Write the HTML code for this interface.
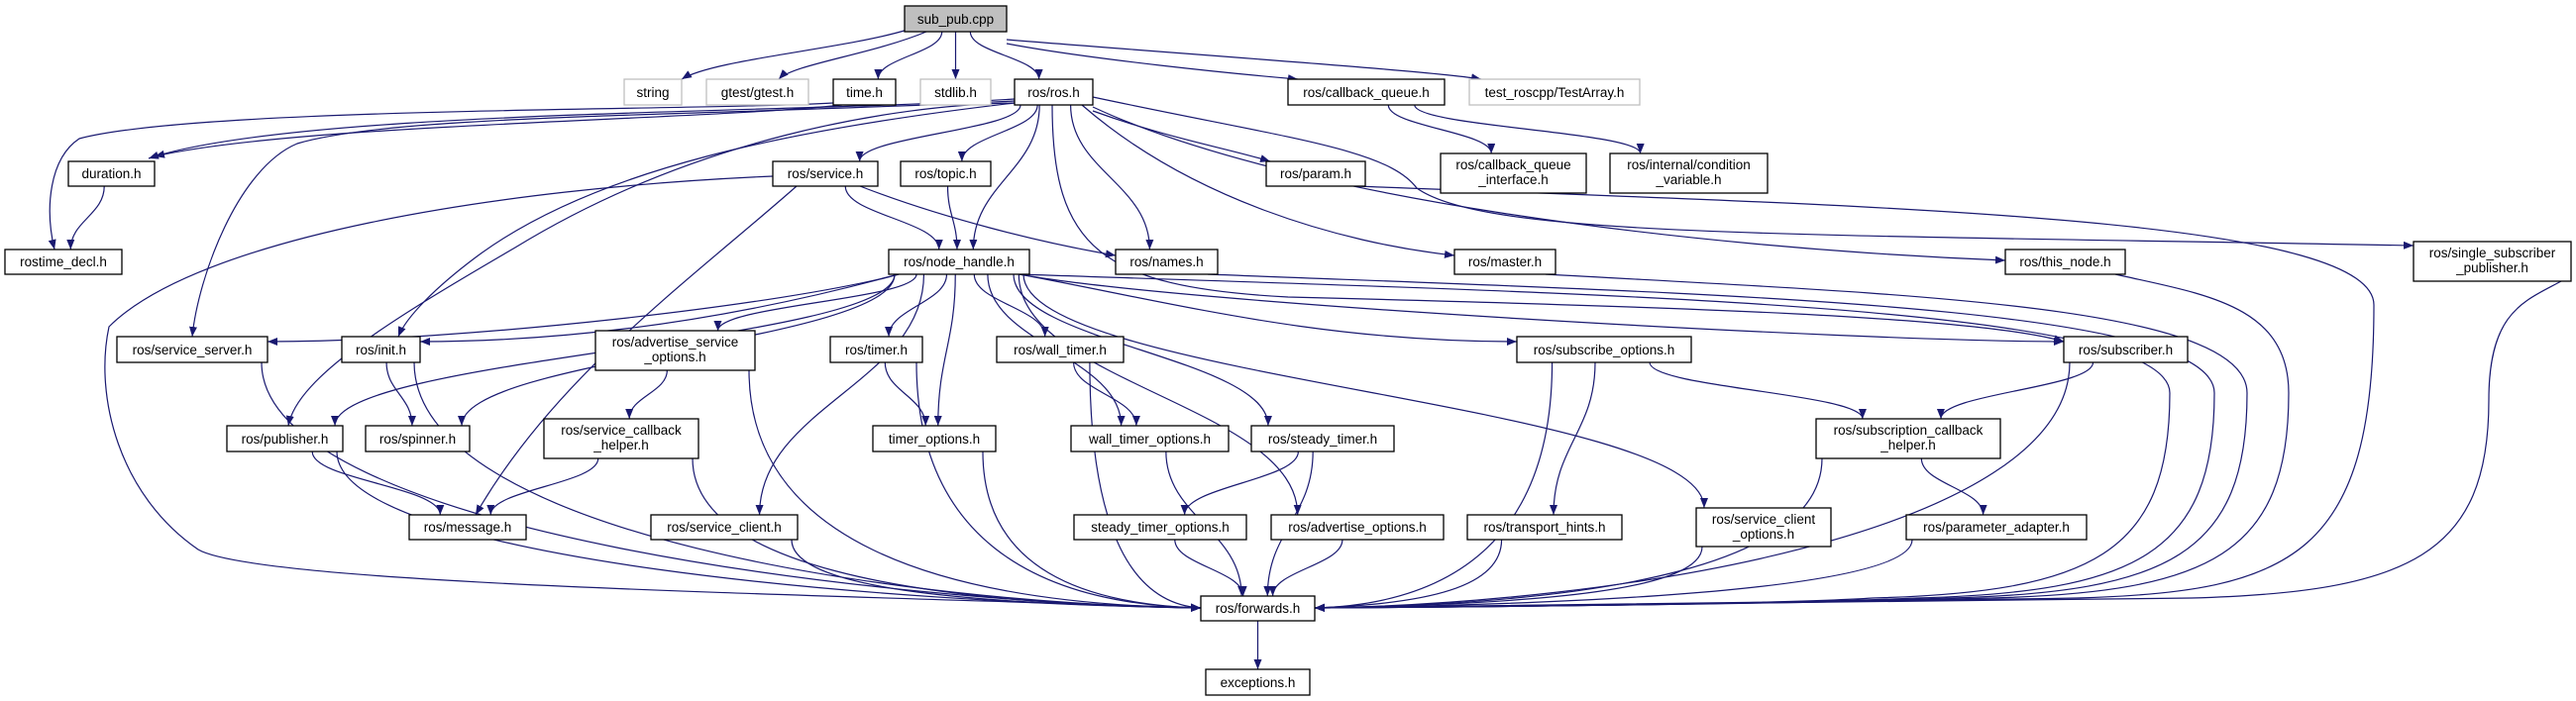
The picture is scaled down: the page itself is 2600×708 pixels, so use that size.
<!DOCTYPE html>
<html><head><meta charset="utf-8"><style>
html,body{margin:0;padding:0;background:#fff;}
svg{display:block;}
text{font-family:"Liberation Sans","DejaVu Sans",sans-serif;font-size:13.5px;fill:#000;}
.n{fill:#fff;stroke:#000;stroke-width:1.3;}
.g{fill:#fff;stroke:#bfbfbf;stroke-width:1.3;}
.e{fill:none;stroke:#191970;stroke-width:1.2;}
</style></head><body>
<svg id="s" width="2600" height="708" viewBox="0 0 2600 708" xmlns="http://www.w3.org/2000/svg">
<defs><marker id="a" markerWidth="10" markerHeight="8" refX="10" refY="4" orient="auto" markerUnits="userSpaceOnUse"><path d="M0,0 L10,4 L0,8 z" fill="#191970"/></marker></defs>
<g id="edges"></g>
<g id="nodes">
<rect x="913" y="6" width="103" height="26" fill="#bfbfbf" stroke="#000" stroke-width="1.3"/><text x="964.5" y="24" text-anchor="middle">sub_pub.cpp</text>
<rect class="g" x="630" y="80" width="58" height="26"/><text x="659" y="98" text-anchor="middle">string</text>
<rect class="g" x="713" y="80" width="103" height="26"/><text x="764.5" y="98" text-anchor="middle">gtest/gtest.h</text>
<rect class="n" x="841" y="80" width="63" height="26"/><text x="872.5" y="98" text-anchor="middle">time.h</text>
<rect class="g" x="929" y="80" width="71" height="26"/><text x="964.5" y="98" text-anchor="middle">stdlib.h</text>
<rect class="n" x="1024" y="80" width="79" height="26"/><text x="1063.5" y="98" text-anchor="middle">ros/ros.h</text>
<rect class="n" x="1300" y="80" width="158" height="26"/><text x="1379" y="98" text-anchor="middle">ros/callback_queue.h</text>
<rect class="g" x="1483" y="80" width="172" height="26"/><text x="1569" y="98" text-anchor="middle">test_roscpp/TestArray.h</text>
<rect class="n" x="69" y="163" width="87" height="25"/><text x="112.5" y="180" text-anchor="middle">duration.h</text>
<rect class="n" x="780" y="163" width="106" height="25"/><text x="833" y="180" text-anchor="middle">ros/service.h</text>
<rect class="n" x="909" y="163" width="91" height="25"/><text x="954.5" y="180" text-anchor="middle">ros/topic.h</text>
<rect class="n" x="1278" y="163" width="100" height="25"/><text x="1328" y="180" text-anchor="middle">ros/param.h</text>
<rect class="n" x="1454" y="155" width="147" height="40"/><text x="1527.5" y="171" text-anchor="middle">ros/callback_queue</text><text x="1527.5" y="186" text-anchor="middle">_interface.h</text>
<rect class="n" x="1625" y="155" width="159" height="40"/><text x="1704.5" y="171" text-anchor="middle">ros/internal/condition</text><text x="1704.5" y="186" text-anchor="middle">_variable.h</text>
<rect class="n" x="5" y="252" width="118" height="25"/><text x="64" y="269" text-anchor="middle">rostime_decl.h</text>
<rect class="n" x="897" y="252" width="142" height="25"/><text x="968" y="269" text-anchor="middle">ros/node_handle.h</text>
<rect class="n" x="1126" y="252" width="103" height="25"/><text x="1177.5" y="269" text-anchor="middle">ros/names.h</text>
<rect class="n" x="1468" y="252" width="102" height="25"/><text x="1519" y="269" text-anchor="middle">ros/master.h</text>
<rect class="n" x="2024" y="252" width="121" height="25"/><text x="2084.5" y="269" text-anchor="middle">ros/this_node.h</text>
<rect class="n" x="2436" y="244" width="159" height="40"/><text x="2515.5" y="260" text-anchor="middle">ros/single_subscriber</text><text x="2515.5" y="275" text-anchor="middle">_publisher.h</text>
<rect class="n" x="118" y="340" width="152" height="26"/><text x="194" y="358" text-anchor="middle">ros/service_server.h</text>
<rect class="n" x="345" y="340" width="79" height="26"/><text x="384.5" y="358" text-anchor="middle">ros/init.h</text>
<rect class="n" x="601" y="334" width="161" height="40"/><text x="681.5" y="350" text-anchor="middle">ros/advertise_service</text><text x="681.5" y="365" text-anchor="middle">_options.h</text>
<rect class="n" x="838" y="340" width="93" height="26"/><text x="884.5" y="358" text-anchor="middle">ros/timer.h</text>
<rect class="n" x="1006" y="340" width="128" height="26"/><text x="1070" y="358" text-anchor="middle">ros/wall_timer.h</text>
<rect class="n" x="1531" y="340" width="176" height="26"/><text x="1619" y="358" text-anchor="middle">ros/subscribe_options.h</text>
<rect class="n" x="2083" y="340" width="125" height="26"/><text x="2145.5" y="358" text-anchor="middle">ros/subscriber.h</text>
<rect class="n" x="229" y="430" width="117" height="26"/><text x="287.5" y="448" text-anchor="middle">ros/publisher.h</text>
<rect class="n" x="369" y="430" width="105" height="26"/><text x="421.5" y="448" text-anchor="middle">ros/spinner.h</text>
<rect class="n" x="549" y="423" width="156" height="40"/><text x="627" y="439" text-anchor="middle">ros/service_callback</text><text x="627" y="454" text-anchor="middle">_helper.h</text>
<rect class="n" x="881" y="430" width="124" height="26"/><text x="943" y="448" text-anchor="middle">timer_options.h</text>
<rect class="n" x="1081" y="430" width="159" height="26"/><text x="1160.5" y="448" text-anchor="middle">wall_timer_options.h</text>
<rect class="n" x="1263" y="430" width="144" height="26"/><text x="1335" y="448" text-anchor="middle">ros/steady_timer.h</text>
<rect class="n" x="1833" y="423" width="186" height="40"/><text x="1926" y="439" text-anchor="middle">ros/subscription_callback</text><text x="1926" y="454" text-anchor="middle">_helper.h</text>
<rect class="n" x="413" y="520" width="118" height="25"/><text x="472" y="537" text-anchor="middle">ros/message.h</text>
<rect class="n" x="657" y="520" width="148" height="25"/><text x="731" y="537" text-anchor="middle">ros/service_client.h</text>
<rect class="n" x="1084" y="520" width="174" height="25"/><text x="1171" y="537" text-anchor="middle">steady_timer_options.h</text>
<rect class="n" x="1283" y="520" width="174" height="25"/><text x="1370" y="537" text-anchor="middle">ros/advertise_options.h</text>
<rect class="n" x="1481" y="520" width="156" height="25"/><text x="1559" y="537" text-anchor="middle">ros/transport_hints.h</text>
<rect class="n" x="1712" y="513" width="136" height="39"/><text x="1780" y="529" text-anchor="middle">ros/service_client</text><text x="1780" y="544" text-anchor="middle">_options.h</text>
<rect class="n" x="1924" y="520" width="182" height="25"/><text x="2015" y="537" text-anchor="middle">ros/parameter_adapter.h</text>
<rect class="n" x="1212" y="602" width="115" height="25"/><text x="1269.5" y="619" text-anchor="middle">ros/forwards.h</text>
<rect class="n" x="1217" y="676" width="105" height="26"/><text x="1269.5" y="694" text-anchor="middle">exceptions.h</text>
</g>
</svg>
<script>
var N={sub:[913,6,1016,32],str:[630,80,688,106],gt:[713,80,816,106],time:[841,80,904,106],std:[929,80,1000,106],ros:[1024,80,1103,106],cq:[1300,80,1458,106],ta:[1483,80,1655,106],dur:[69,163,156,188],svc:[780,163,886,188],top:[909,163,1000,188],par:[1278,163,1378,188],cqi:[1454,155,1601,195],cv:[1625,155,1784,195],rtd:[5,252,123,277],nh:[897,252,1039,277],nam:[1126,252,1229,277],mas:[1468,252,1570,277],tn:[2024,252,2145,277],ssp:[2436,244,2595,284],ss:[118,340,270,366],ini:[345,340,424,366],aso:[601,334,762,374],tim:[838,340,931,366],wt:[1006,340,1134,366],so:[1531,340,1707,366],sub2:[2083,340,2208,366],pub:[229,430,346,456],spn:[369,430,474,456],sch:[549,423,705,463],to:[881,430,1005,456],wto:[1081,430,1240,456],st:[1263,430,1407,456],sch2:[1833,423,2019,463],msg:[413,520,531,545],sc:[657,520,805,545],sto:[1084,520,1258,545],ao:[1283,520,1457,545],th:[1481,520,1637,545],sco:[1712,513,1848,552],pa:[1924,520,2106,545],fw:[1212,602,1327,627],ex:[1217,676,1322,702]};
var E=[["sub","str","P","M916,30 C850,50 720,60 688,80"],["sub","gt","P","M935,32 C880,55 800,65 786,80"],["sub","time"],["sub","std"],["sub","ros"],["sub","cq","P","M1016,44 C1100,60 1250,75 1310,80"],["sub","ta","P","M1016,40 C1200,55 1450,72 1495,80"],
["time","dur","P","M850,106 C700,122 300,125 156,158"],["time","rtd","P","M841,104 C700,112 200,108 80,140 C50,160 45,210 55,252"],["dur","rtd"],
["ros","svc"],["ros","top"],["ros","nh"],["ros","nam"],["ros","par","P","M1103,112 C1180,140 1240,150 1282,163"],["ros","mas","P","M1092,106 C1200,200 1350,245 1468,258"],
["ros","tn","P","M1103,108 C1300,200 1700,250 2024,263"],["ros","ssp","P","M1103,98 C1300,140 1400,150 1430,190 C1500,240 1800,236 2436,248"],
["ros","ini","P","M1024,104 C800,130 600,170 480,260 C440,290 410,320 402,340"],["ros","ss","P","M1024,102 C700,118 400,115 300,145 C240,170 200,280 194,340"],
["ros","pub","P","M1024,104 C900,106 700,140 520,250 C400,320 300,380 291,430"],["ros","dur","P","M1024,100 C800,115 300,110 150,160"],
["ros","sub2","P","M1062,106 C1062,250 1110,290 1300,300 C1700,310 2000,320 2083,345"],
["cq","cqi"],["cq","cv"],
["svc","nh"],["svc","nam","P","M868,188 C950,220 1050,245 1126,258"],["svc","msg","P","M804,188 C700,280 560,380 480,520"],["svc","fw","P","M780,178 C500,190 200,240 110,330 C95,400 120,500 200,555 C260,590 800,600 1212,614"],
["top","nh"],["par","fw","V",2396],["mas","fw","V",2268],["nam","fw","V",2235],["tn","fw","V",2310],["ssp","fw","V",2512],
["nh","ss","R"],["nh","ini","R"],["nh","pub"],["nh","spn"],["nh","aso"],["nh","sc"],["nh","tim"],["nh","to"],["nh","wt"],["nh","wto"],["nh","st"],["nh","ao"],["nh","so","L"],["nh","sco"],["nh","sub2","L"],["nh","fw","V",2190],
["ini","spn"],["ini","fw"],["ss","fw"],["pub","msg"],["pub","fw"],["aso","sch"],["aso","fw"],["sch","msg"],["sch","fw"],["sc","fw"],
["tim","to"],["tim","fw"],["to","fw"],["wt","wto"],["wt","fw"],["wto","fw"],["st","sto"],["st","fw"],["sto","fw"],["ao","fw"],
["so","th"],["so","sch2"],["so","fw"],["th","fw"],["sco","fw"],["sch2","pa"],["sch2","fw"],["pa","fw"],["sub2","sch2"],["sub2","fw"],["fw","ex"]];
var g=document.getElementById("edges"),h="";
function P(d){h+='<path class="e" marker-end="url(#a)" d="'+d+'"/>';}
E.forEach(function(e){var a=N[e[0]],b=N[e[1]],m=e[2]||"T";
if(m=="P"){P(e[3]);return;}
var acx=(a[0]+a[2])/2,bcx=(b[0]+b[2])/2,sx,sy,ex,ey;
sy=a[3];sx=acx+Math.max(-(a[2]-a[0])/2+6,Math.min((a[2]-a[0])/2-6,(bcx-acx)*0.15));
if(m=="V"){var X=e[3];sx=a[2]-10;
 P("M"+sx+","+sy+" C"+(sx+0.5*(X-sx))+","+(sy+20)+" "+X+","+(sy+30)+" "+X+","+(sy+120)+" C"+X+","+(560)+" "+(X-80)+","+598+" "+(X-300)+",604 C1800,610 1500,613 1327,614");return;}
if(m=="R"){ex=b[2];ey=b[1]+5;P("M"+(a[0]+10)+","+sy+" C"+(a[0]-100)+","+(sy+30)+" "+(ex+200)+","+ey+" "+ex+","+ey);return;}
if(m=="L"){ex=b[0];ey=b[1]+5;P("M"+(a[2]-10)+","+sy+" C"+(a[2]+150)+","+(sy+30)+" "+(ex-200)+","+ey+" "+ex+","+ey);return;}
if(e[1]=="fw"&&Math.abs(bcx-acx)>150){
 ey=614; ex=(acx<bcx)?1212:1327;var d=ey-sy;
 P("M"+sx+","+sy+" C"+sx+","+(sy+d*0.7)+" "+(ex+((acx<bcx)?-1:1)*Math.min(300,Math.abs(ex-sx)*0.6))+","+(ey-4)+" "+ex+","+ey);return;}
ex=bcx+Math.max(-(b[2]-b[0])/2+8,Math.min((b[2]-b[0])/2-8,(acx-bcx)*0.15));ey=b[1];
var d=ey-sy;P("M"+sx+","+sy+" C"+sx+","+(sy+d*0.45)+" "+ex+","+(ey-d*0.45)+" "+ex+","+ey);});
g.innerHTML=h;
</script>
</body></html>
